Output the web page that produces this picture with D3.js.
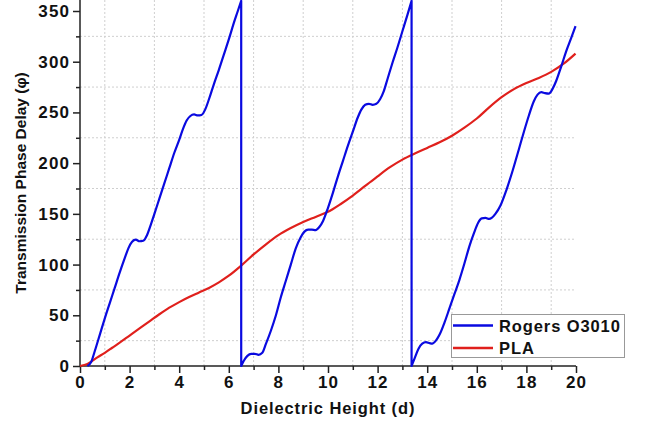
<!DOCTYPE html>
<html><head><meta charset="utf-8">
<script src="https://cdn.jsdelivr.net/npm/d3@7"></script>
<style>
body{margin:0;background:#fff;}
svg{display:block;}
text{font-family:"Liberation Sans",Arial,sans-serif;font-weight:bold;fill:#111;}
</style>
</head><body><svg id="c" width="649" height="425"></svg>
<script>
const xTicks = [0,2,4,6,8,10,12,14,16,18,20];
const xMinor = [1,3,5,7,9,11,13,15,17,19];
const yTicks = [0,50,100,150,200,250,300,350];
const yMinor = [25,75,125,175,225,275,325];
const xTitle = "Dielectric Height (d)";
const yTitle = "Transmission Phase Delay (\u03C6)";
const seriesNames = ["Rogers O3010", "PLA"];

const rogersX = [0.3,0.45,0.6,0.8,1.0,1.2,1.4,1.6,1.8,1.95,2.1,2.25,2.4,2.55,2.7,2.85,3.0,3.2,3.4,3.6,3.8,4.0,4.15,4.3,4.45,4.6,4.75,4.9,5.05,5.2,5.4,5.6,5.8,6.0,6.2,6.35,6.5,
  6.5,6.6,6.75,6.9,7.05,7.2,7.35,7.5,7.7,7.9,8.1,8.3,8.5,8.7,8.9,9.05,9.2,9.35,9.5,9.65,9.8,10.0,10.2,10.4,10.6,10.8,11.0,11.2,11.35,11.5,11.65,11.8,11.95,12.1,12.25,12.4,12.6,12.8,13.0,13.2,13.37,
  13.37,13.5,13.65,13.8,13.95,14.1,14.2,14.35,14.5,14.7,14.9,15.1,15.3,15.5,15.7,15.9,16.05,16.2,16.35,16.5,16.6,16.75,16.95,17.2,17.45,17.7,17.9,18.1,18.3,18.45,18.6,18.75,18.9,19.05,19.2,19.4,19.6,19.8,19.98];
const rogersY = [0,4,15,31,47,62,77,92,106,116,122.5,124.5,123,123.5,129,139,150,165,180,195,210,223,233.5,242,246.5,248,247,247.5,253,263,278,292,307,322,338,349,360,
  0,5,10,12,12,11,13,22,35,50,68,84,100,116,127,132.5,134.5,134.5,134,137,143,156,171,187,202,217,231,245,253,257.5,258.5,257.5,258.5,263,271,283,299,314,330,346,360,
  0,8,17,22,23.5,22.5,22,25,31,43,57,71,85,101,118,132,141,145.5,146,145,146,150,158,174,193,214,231,247,261,267.5,270,269,268.5,273,281,295,310,323,335];

const plaX = [0,0.3,0.7,1.0,1.3,1.6,2.0,2.4,2.8,3.2,3.6,4.0,4.4,4.8,5.2,5.6,6.0,6.5,7.0,7.5,8.0,8.5,9.0,9.5,10.0,10.5,11.0,11.5,12.0,12.5,13.0,13.5,14.0,14.5,15.0,15.5,16.0,16.5,17.0,17.5,18.0,18.5,19.0,19.5,19.98];
const plaY = [0,2,8.5,13,18,23,30,37,44,51,57.5,63,68,72.5,77,82.5,89,99,110,120,129,136,142,147,152,159.5,168,177.5,187,196,203.5,209.5,215,220.5,227,235,244,255,265,273,279,284,290,298,308];

const svg = d3.select("#c");
const x = d3.scaleLinear().domain([0,20]).range([80,576]);
const y = d3.scaleLinear().domain([0,350]).range([366,11]);
const yTop = 0;

// grid
const grid = svg.append("g").attr("stroke","#cfcfcf").attr("stroke-width",1).attr("stroke-dasharray","2,2");
grid.selectAll("line.v").data(xMinor).join("line").attr("class","v")
  .attr("x1",d=>x(d)).attr("x2",d=>x(d)).attr("y1",y(0)).attr("y2",yTop);
grid.selectAll("line.h").data(yMinor).join("line").attr("class","h")
  .attr("x1",x(0)).attr("x2",x(20)).attr("y1",d=>y(d)).attr("y2",d=>y(d));

// axes
function styleAxis(g){
  g.select(".domain").remove();
  g.selectAll("line").attr("stroke","#222").attr("stroke-width",1.5);
  g.selectAll("text").attr("fill","#111").style("font-size","17px").style("letter-spacing","1.1px").style("font-family",'"Liberation Sans",Arial,sans-serif').style("font-weight","bold");
}
svg.append("g").attr("transform",`translate(0,${y(0)})`)
  .call(d3.axisBottom(x).tickValues(xTicks).tickSize(7).tickPadding(3).tickFormat(d3.format("d"))).call(styleAxis);
svg.append("g").attr("transform",`translate(0,${y(0)})`)
  .call(d3.axisBottom(x).tickValues(xMinor).tickSize(4).tickFormat("")).call(styleAxis);
svg.append("g").attr("transform",`translate(${x(0)},0)`)
  .call(d3.axisLeft(y).tickValues(yTicks).tickSize(7).tickPadding(3).tickFormat(d3.format("d"))).call(styleAxis);
svg.append("g").attr("transform",`translate(${x(0)},0)`)
  .call(d3.axisLeft(y).tickValues(yMinor).tickSize(4).tickFormat("")).call(styleAxis);
svg.append("line").attr("x1",x(0)).attr("x2",x(20)).attr("y1",y(0)).attr("y2",y(0)).attr("stroke","#222").attr("stroke-width",1.5);
svg.append("line").attr("x1",x(0)).attr("x2",x(0)).attr("y1",y(0)+0.75).attr("y2",yTop).attr("stroke","#222").attr("stroke-width",1.5);

// titles
svg.append("text").attr("x",(x(0)+x(20))/2).attr("y",414).attr("text-anchor","middle")
  .style("font-size","16.5px").style("letter-spacing","0.9px").text(xTitle);
svg.append("text").attr("transform",`translate(26,${183}) rotate(-90)`).attr("text-anchor","middle")
  .style("font-size","15.5px").text(yTitle);

// series
const lineGen = d3.line().x(d=>x(d[0])).y(d=>y(d[1])).curve(d3.curveMonotoneX);
function segPath(xs, ys){
  const segs = []; let cur = [];
  xs.forEach((v,i)=>{
    if(i>0 && v <= xs[i-1]){ segs.push(cur); cur = []; }
    cur.push([v, ys[i]]);
  });
  segs.push(cur);
  return segs.map((s,i)=>{ const p = lineGen(s); return i===0 ? p : "L" + p.slice(1); }).join("");
}
svg.append("path").attr("d",segPath(plaX,plaY)).attr("fill","none").attr("stroke","#e0201c").attr("stroke-width",2.2);
svg.append("path").attr("d",segPath(rogersX,rogersY)).attr("fill","none").attr("stroke","#0a0ae0").attr("stroke-width",2.2).attr("stroke-linejoin","round");

// legend
const lg = svg.append("g");
lg.append("rect").attr("x",451.5).attr("y",314.5).attr("width",173).attr("height",43).attr("fill","#fff").attr("stroke","#999").attr("stroke-width",1);
const colors = ["#0a0ae0","#e0201c"];
seriesNames.forEach((n,i)=>{
  const yy = 325.5 + i*22.5;
  lg.append("line").attr("x1",453).attr("x2",493).attr("y1",yy).attr("y2",yy).attr("stroke",colors[i]).attr("stroke-width",2.5);
  lg.append("text").attr("x",499).attr("y",yy+6).style("font-size","16.5px").style("letter-spacing","0.9px").text(n);
});
</script></body></html>
